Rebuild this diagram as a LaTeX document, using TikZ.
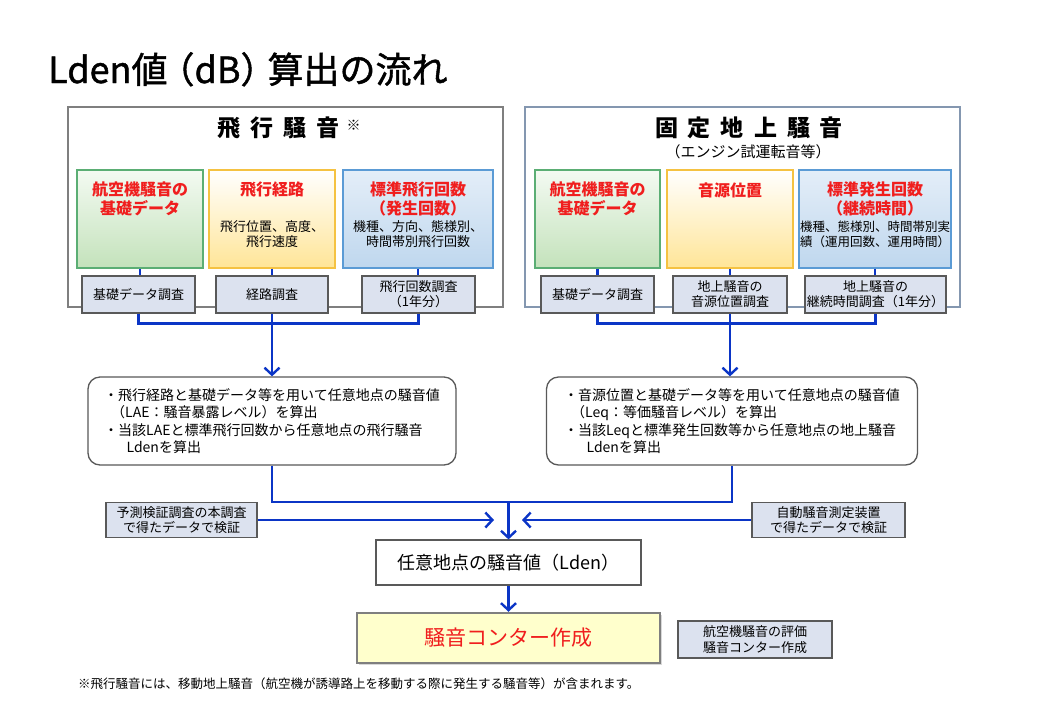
\documentclass[tikz,border=0pt]{standalone}
\usepackage{fontspec}
\setmainfont{Noto Sans CJK JP}
\newfontfamily\headfont{Noto Sans CJK JP}[FakeBold=1.2]
\usetikzlibrary{arrows.meta, positioning, calc, shadows}
\definecolor{inkline}{HTML}{0B35C6}
\definecolor{inkgray}{HTML}{7F7F7F}
\definecolor{inkdark}{HTML}{595959}
\definecolor{inkframe}{HTML}{8497B0}
\definecolor{inkred}{HTML}{F01E1E}
\definecolor{fillsurvey}{HTML}{DCE2EF}
\definecolor{fillcontour}{HTML}{FFFFCC}
\definecolor{greenedge}{HTML}{5BAE74}
\definecolor{greentop}{HTML}{F4FAF2}
\definecolor{greenbot}{HTML}{C3E2BB}
\definecolor{yellowedge}{HTML}{F5C242}
\definecolor{yellowtop}{HTML}{FFFFFF}
\definecolor{yellowbot}{HTML}{FFE597}
\definecolor{blueedge}{HTML}{5B9BD5}
\definecolor{bluetop}{HTML}{E4EEF8}
\definecolor{bluebot}{HTML}{BFD7EE}
\newcommand{\setfs}[2]{\fontsize{#1pt}{#2pt}\selectfont}
\newcommand{\surveybox}[4]{%
  \node[draw=inkdark, line width=1.2pt, fill=fillsurvey, inner sep=0pt,
        minimum width=#3pt, minimum height=37pt, align=center,
        font=\setfs{13}{15}] (#1) at (#2,294.5) {#4};}
\tikzset{
  panel/.style={draw, line width=1.2pt, fill=white, minimum width=435pt, minimum height=200pt, inner sep=0pt},
  srcbox/.style={line width=1.1pt, minimum height=98pt, inner sep=0pt},
  srcgreen/.style={draw=greenedge, top color=greentop, bottom color=greenbot},
  srcyellow/.style={draw=yellowedge, top color=yellowtop, bottom color=yellowbot},
  srcblue/.style={draw=blueedge, top color=bluetop, bottom color=bluebot},
  redlbl/.style={font=\bfseries\setfs{16}{19}, text=inkred, align=center, inner sep=0pt},
  sublbl/.style={font=\setfs{13}{15}, align=center, inner sep=0pt},
  calcbox/.style={draw=inkdark, line width=1.3pt, rounded corners=12pt, fill=white,
                  align=left, minimum height=88pt, font=\setfs{14}{17.5}},
  bluewire/.style={draw=inkline, line width=2.4pt},
  flowtip/.style={-{Straight Barb[length=7pt, width=15pt]}},
}

\begin{document}
\begin{tikzpicture}[x=1pt, y=-1pt, font=\setfs{13}{15}]
  \useasboundingbox (0,0) rectangle (1041,721);
  \fill[white] (0,0) rectangle (1041,721);

  \node[anchor=base west, font=\headfont\setfs{36}{40}, inner sep=0pt] (head) at (48,83)
    {Lden値\hspace{-0.25em}（dB）\hspace{-0.25em}算出の流れ};

  % flight noise / ground noise panels
  \node[panel, draw=inkgray] (flight) at (285.5,207) {};
  \node[panel, draw=inkframe] (ground) at (742.5,207) {};
  \node[font=\bfseries\setfs{23}{26}] (flighthd) at (289,128)
    {飛\hspace{10pt}行\hspace{10pt}騒\hspace{10pt}音\hspace{7pt}\raisebox{6pt}{\mdseries\setfs{14}{14}※}};
  \node[font=\bfseries\setfs{23}{26}] (groundhd) at (749,128)
    {固\hspace{10pt}定\hspace{10pt}地\hspace{10pt}上\hspace{10pt}騒\hspace{10pt}音};
  \node[font=\setfs{15}{17}] (groundsub) at (748,152) {（エンジン試運転音等）};

  % input data
  \node[srcbox, srcgreen, minimum width=126pt] (fdata) at (140,219) {};
  \node[srcbox, srcyellow, minimum width=126pt] (froute) at (272,219) {};
  \node[srcbox, srcblue, minimum width=150pt] (fcount) at (418,219) {};
  \node[srcbox, srcgreen, minimum width=125pt] (gdata) at (597.5,219) {};
  \node[srcbox, srcyellow, minimum width=126pt] (gsource) at (730,219) {};
  \node[srcbox, srcblue, minimum width=152pt] (gcount) at (875,219) {};

  \node[redlbl] (fdatalbl) at (140,199) {航空機騒音の\\基礎データ};
  \node[redlbl] (froutelbl) at (272,190) {飛行経路};
  \node[sublbl] (froutesub) at (272,234.5) {飛行位置、高度、\\飛行速度};
  \node[redlbl] (fcountlbl) at (418,199) {標準飛行回数\\（発生回数）};
  \node[sublbl] (fcountsub) at (418,234.5) {機種、方向、態様別、\\時間帯別飛行回数};
  \node[redlbl] (gdatalbl) at (597.5,199) {航空機騒音の\\基礎データ};
  \node[redlbl] (gsourcelbl) at (730,190) {音源位置};
  \node[redlbl] (gcountlbl) at (875,199) {標準発生回数\\（継続時間）};
  \node[sublbl, font=\setfs{12.5}{15}] (gcountsub) at (875,234.5) {機種、態様別、時間帯別実\\績（運用回数、運用時間）};

  % surveys
  \surveybox{fdatasv}{138.5}{113}{基礎データ調査}
  \surveybox{froutesv}{272}{112}{経路調査}
  \surveybox{fcountsv}{418.5}{113}{飛行回数調査\\（1年分）}
  \surveybox{gdatasv}{597.5}{113}{基礎データ調査}
  \surveybox{gsourcesv}{730}{114}{地上騒音の\\音源位置調査}
  \surveybox{gcountsv}{875.5}{141}{地上騒音の\\継続時間調査（1年分）}

  \foreach \a/\b in {fdata/fdatasv, froute/froutesv, fcount/fcountsv,
                     gdata/gdatasv, gsource/gsourcesv, gcount/gcountsv}
    \draw[bluewire] (\a.south) -- (\a.south |- \b.north);

  % calculation
  \node[calcbox, minimum width=368pt] (fcalc) at (272,421)
    {・飛行経路と基礎データ等を用いて任意地点の騒音値\\
     \hspace*{0.5em}（LAE：騒音暴露レベル）を算出\\
     ・当該LAEと標準飛行回数から任意地点の飛行騒音\\
     \hspace*{1.6em}Ldenを算出};
  \node[calcbox, minimum width=371pt] (gcalc) at (732,421)
    {・音源位置と基礎データ等を用いて任意地点の騒音値\\
     \hspace*{0.5em}（Leq：等価騒音レベル）を算出\\
     ・当該Leqと標準発生回数等から任意地点の地上騒音\\
     \hspace*{1.6em}Ldenを算出};

  \draw[bluewire] (fdatasv.south) -- ++(0,10) -| (fcountsv.south);
  \draw[bluewire] (gdatasv.south) -- ++(0,10) -| (gcountsv.south);
  \draw[bluewire, flowtip] (froutesv.south) -- (froutesv.south |- fcalc.north);
  \draw[bluewire, flowtip] (gsourcesv.south) -- (gsourcesv.south |- gcalc.north);

  % result
  \node[draw=inkdark, line width=1.2pt, minimum width=265pt, minimum height=45pt,
        font=\setfs{18}{20}] (lden) at (508.5,562.5) {任意地点の騒音値（Lden）};
  \node[draw=inkdark, line width=1.2pt, fill=fillsurvey, minimum width=151pt, minimum height=35pt,
        inner sep=0pt, align=center] (lcheck) at (181.5,520) {予測検証調査の本調査\\で得たデータで検証};
  \node[draw=inkdark, line width=1.2pt, fill=fillsurvey, minimum width=153pt, minimum height=35pt,
        inner sep=0pt, align=center] (rcheck) at (828.5,520) {自動騒音測定装置\\で得たデータで検証};

  \coordinate (merge) at (508,502);
  \coordinate (ltip) at (494,520);
  \coordinate (rtip) at (522,520);
  \draw[bluewire] (fcalc.south) |- (gcalc.south |- merge) -- (gcalc.south);
  \draw[bluewire, flowtip] (lden.north |- merge) -- (lden.north);
  \draw[bluewire, flowtip] (lcheck.east) -- (ltip);
  \draw[bluewire, flowtip] (rcheck.west) -- (rtip);

  % contour
  \node[draw=inkgray, line width=2.5pt, fill=fillcontour, minimum width=303pt, minimum height=50pt,
        drop shadow={opacity=0.3, shadow xshift=1.5pt, shadow yshift=-1.5pt},
        font=\setfs{21}{24}, text=inkred] (contour) at (508.5,638) {騒音コンター作成};
  \draw[bluewire, flowtip] (lden.south) -- (contour.north);
  \node[draw=inkdark, line width=1.2pt, fill=fillsurvey, minimum width=154pt, minimum height=37pt,
        inner sep=0pt, align=center, font=\setfs{13}{15.5}] (note) at (755,639.5) {航空機騒音の評価\\騒音コンター作成};

  \node[anchor=west, inner sep=0pt, font=\setfs{12.5}{14}] (foot) at (78,684)
    {※飛行騒音には、移動地上騒音（航空機が誘導路上を移動する際に発生する騒音等）が含まれます。};
\end{tikzpicture}
\end{document}
